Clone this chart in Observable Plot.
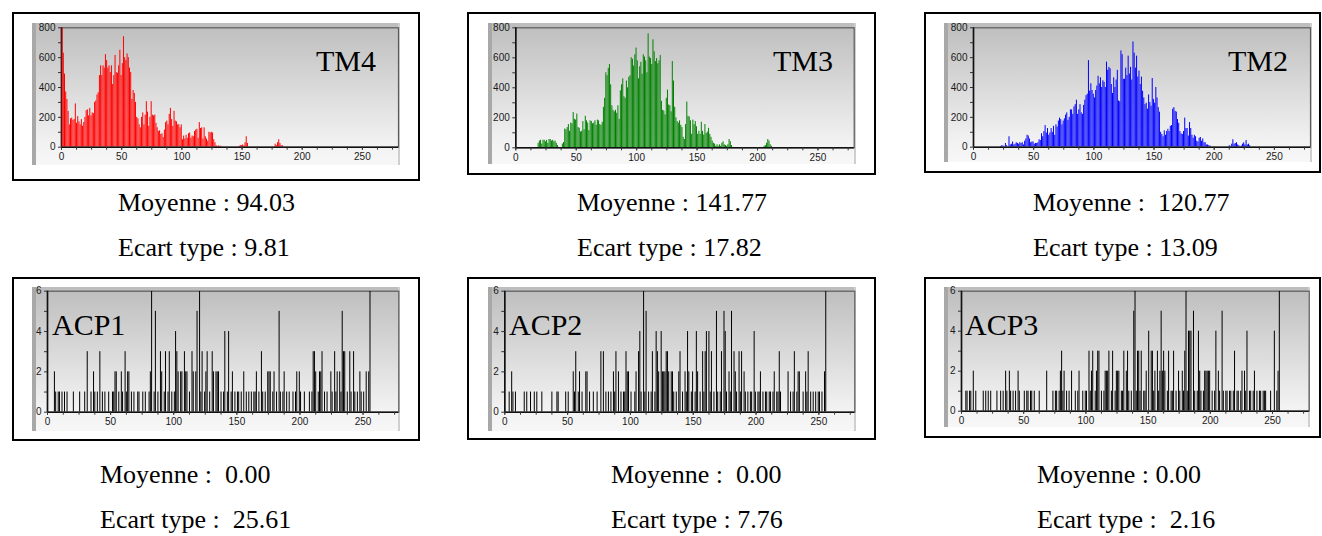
<!DOCTYPE html>
<html>
<head>
<meta charset="utf-8">
<script src="https://cdn.jsdelivr.net/npm/d3@7"></script>
<script src="https://cdn.jsdelivr.net/npm/@observablehq/plot@0.6"></script>
<style>
  html, body { margin: 0; padding: 0; background: #fff; }
  body { position: relative; width: 1322px; height: 536px; overflow: hidden; }
  .frame { position: absolute; box-sizing: border-box; border: 2px solid #000; }
  .gray { position: absolute; background: linear-gradient(to bottom, #bdbdbd 0%, #d6d6d6 40%, #f2f2f2 85%, #f7f7f7 100%); }
  .strip { position: absolute; background: #a8a8a8; }
  .rstrip { position: absolute; background: #cfcfcf; }
  .chart { position: absolute; }
  .label { position: absolute; font-family: "Liberation Serif", "Times New Roman", serif; font-size: 30px; line-height: 30px; color: #000; white-space: pre; }
  .caption { position: absolute; font-family: "Liberation Serif", "Times New Roman", serif; font-size: 26px; line-height: 26px; color: #000; white-space: pre; }
</style>
</head>
<body>
<script>
// ---------------- data (counts per grey level, index = level) ----------------
const tm4Counts = [
 800,630,490,370,320,240,150,190,195,180,
 185,290,160,205,170,150,185,140,165,200,
 245,250,210,260,210,230,225,300,310,350,
 365,480,545,480,545,530,620,580,530,545,
 500,545,420,480,615,500,495,545,650,480,
 560,740,600,580,625,600,530,500,320,380,
 360,300,200,190,150,130,200,230,150,215,
 305,235,140,200,305,215,210,215,160,130,
 105,110,85,90,65,115,165,175,150,220,
 260,185,140,240,175,170,150,150,130,150,
 50,75,55,80,60,90,95,60,75,70,
 105,115,120,60,165,125,130,55,130,70,
 55,40,100,95,100,95,50,30,10,5,
 8,6,6,0,0,0,0,0,0,0,
 0,0,0,0,0,0,0,5,12,10,
 15,8,30,70,25,0,0,0,0,0,
 0,0,0,0,0,0,0,0,0,0,
 0,0,0,0,0,0,0,20,10,30,
 50,25,10,10
];
const tm3Counts = [
 0,0,0,0,0,0,0,0,0,0,
 0,0,0,0,0,0,0,0,30,45,
 50,25,50,50,40,50,30,55,55,45,
 50,40,45,30,15,0,0,0,25,35,
 125,120,135,155,110,165,160,235,190,185,
 225,135,130,105,110,175,120,210,180,165,
 115,180,175,160,165,180,150,185,180,155,
 150,170,270,330,500,480,530,555,420,280,
 250,240,250,230,280,190,380,420,460,340,
 330,445,400,470,480,600,590,545,620,665,
 580,460,540,570,490,620,605,580,500,760,
 605,595,555,720,640,575,595,560,580,615,
 310,250,245,220,330,385,285,280,240,575,
 445,270,200,175,165,180,150,135,70,55,
 155,305,210,205,180,90,185,155,175,140,
 90,110,90,170,110,85,155,95,105,130,
 90,70,45,30,25,10,20,10,20,10,
 30,40,20,15,10,20,55,40,15,0,
 0,0,0,0,0,0,0,0,0,0,
 0,0,0,0,0,0,0,0,0,0,
 0,0,0,0,0,10,15,30,55,45,
 20,10
];
const tm2Counts = [
 0,0,0,0,0,0,0,0,0,0,
 0,0,0,0,0,0,0,0,0,0,
 0,0,5,10,8,0,25,10,0,70,
 15,20,35,15,20,30,25,20,30,25,
 30,15,40,55,80,75,55,30,35,35,
 20,25,25,30,50,45,90,70,105,145,
 95,125,80,95,125,100,140,80,150,135,
 175,195,185,150,175,190,215,230,180,200,
 250,250,220,270,285,315,220,250,285,230,
 220,280,315,345,355,580,375,425,380,355,
 330,380,410,475,425,465,400,445,435,400,
 570,515,535,525,420,360,465,400,450,515,
 310,305,645,620,455,455,530,480,610,490,
 535,450,705,630,530,610,470,510,420,470,
 375,330,285,295,255,350,300,275,460,320,
 295,400,330,265,235,100,85,70,110,80,
 105,120,105,140,145,255,265,240,235,185,
 160,105,90,85,105,195,125,125,75,165,
 125,80,60,80,70,40,35,60,65,40,
 55,30,30,15,15,10,8,0,0,0,
 0,0,0,0,0,0,0,0,0,0,
 0,0,10,5,20,50,20,25,30,15,
 10,0,8,20,30,15,45,15,20,10
];
const acp1Counts = [
 0,0,0,0,0,2,1,0,1,1,0,1,0,1,0,1,
 0,0,0,0,1,0,0,0,0,1,0,0,0,1,0,3,
 0,0,1,0,2,1,0,1,0,3,0,1,0,1,0,0,
 1,0,0,1,1,2,2,0,1,0,2,1,0,3,1,2,
 2,0,1,0,1,0,0,1,1,0,0,1,0,1,0,0,
 1,2,6,0,1,5,0,1,0,3,2,0,1,3,0,1,
 3,0,1,0,1,4,3,2,0,2,2,0,3,2,2,0,
 1,0,3,2,0,2,5,0,6,1,3,0,1,2,3,0,
 1,0,3,2,0,2,2,2,0,1,0,1,4,0,1,4,
 0,1,2,0,1,0,1,1,0,1,0,2,0,1,0,1,
 0,1,0,1,1,2,0,1,0,3,1,0,1,0,2,2,
 2,0,1,2,0,1,0,5,1,0,1,2,0,1,0,1,
 0,0,1,0,1,2,0,2,1,0,0,1,0,0,0,1,
 0,1,3,3,2,0,1,2,2,3,0,1,0,1,0,0,
 2,1,0,3,1,2,0,2,1,5,3,3,0,1,0,3,
 1,0,3,1,0,1,0,2,1,0,1,0,2,0,2,6
];
const acp2Counts = [
 0,0,0,1,0,2,1,0,1,0,0,0,0,0,0,1,
 0,1,0,0,1,0,0,1,0,1,0,0,0,1,0,0,
 0,0,0,0,0,1,0,0,0,1,1,0,0,0,0,0,
 1,0,1,0,0,0,2,1,3,0,1,2,0,1,0,0,
 2,2,0,1,0,0,1,0,0,1,0,0,3,0,3,0,
 1,0,1,0,1,0,2,1,3,0,2,0,1,0,1,1,
 3,2,2,0,1,0,0,1,2,0,3,4,1,0,6,1,
 5,0,1,0,1,3,0,1,4,3,2,0,4,2,2,2,
 3,3,2,0,2,2,1,0,1,0,2,3,0,1,0,2,
 1,4,2,0,1,2,0,1,4,2,0,1,0,3,1,3,
 4,0,4,1,3,0,1,0,5,1,0,1,3,0,5,4,
 1,0,2,1,5,0,3,2,1,0,3,1,3,0,2,1,
 0,1,0,1,1,0,4,1,0,1,1,2,0,1,0,1,
 1,0,1,1,0,1,2,0,1,1,3,1,0,0,0,0,
 0,2,0,1,0,1,3,0,1,2,2,0,0,1,0,2,
 1,3,0,1,0,1,0,1,0,1,1,0,1,0,2,6
];
const acp3Counts = [
 0,0,0,1,1,0,1,1,0,2,0,1,0,0,0,0,
 0,1,0,1,0,1,0,1,0,0,0,0,1,0,0,1,
 0,1,0,2,1,0,2,1,0,1,0,1,0,2,1,0,
 0,0,1,0,1,1,0,1,1,0,1,0,0,0,1,0,
 0,0,0,0,2,0,0,0,0,1,0,1,1,0,1,2,
 3,1,2,0,1,0,1,0,2,0,0,1,0,1,2,0,
 0,1,0,1,1,0,3,1,2,3,0,1,2,3,3,0,
 1,0,1,2,2,2,3,0,1,3,0,1,2,2,2,0,
 1,1,3,0,2,3,1,0,1,0,5,6,1,3,3,1,
 3,0,1,1,2,0,4,0,3,3,1,2,0,3,1,2,
 5,2,3,2,0,1,3,0,1,1,3,0,1,0,2,1,
 0,2,1,3,6,1,4,4,4,0,5,1,0,1,4,2,
 1,0,1,2,2,2,2,2,0,1,0,1,4,0,2,1,
 0,5,1,0,1,1,0,1,1,0,1,3,0,1,1,0,
 1,2,0,2,1,4,0,1,1,0,1,2,0,1,0,1,
 1,0,1,1,1,0,0,0,1,0,0,4,0,1,2,6
];

const panelNames = ["TM4", "TM3", "TM2", "ACP1", "ACP2", "ACP3"];
const meanValues = ["94.03", "141.77", " 120.77", " 0.00", " 0.00", "0.00"];
const stdValues = ["9.81", "17.82", "13.09", " 25.61", "7.76", " 2.16"];
const xTickLabels = [0, 50, 100, 150, 200, 250];
const xMinorStep = 12.5;
const tmYTickLabels = [0, 200, 400, 600, 800];
const tmYMinor = [100, 300, 500, 700];
const acpYTickLabels = [0, 2, 4, 6];
const acpYMinor = [1, 3, 5];

// ---------------- layout (page pixels) ----------------
const layout = [
  {counts: tm4Counts, color: "#ff0000", yMax: 800, yTicks: tmYTickLabels, yMinor: tmYMinor, xMax: 280,
   frame: [12, 12, 420, 181], gray: [32, 23, 400, 165], plot: [61, 27.3, 398, 146.7],
   label: [316, 70.7], cap: [118, 212, 257]},
  {counts: tm3Counts, color: "#008000", yMax: 800, yTicks: tmYTickLabels, yMinor: tmYMinor, xMax: 280,
   frame: [467, 12, 876, 175], gray: [488, 23, 856, 164], plot: [515.3, 27.3, 853.7, 147.3],
   label: [773, 70.7], cap: [577, 212, 257]},
  {counts: tm2Counts, color: "#0000ff", yMax: 800, yTicks: tmYTickLabels, yMinor: tmYMinor, xMax: 280,
   frame: [924, 12, 1321, 173], gray: [944, 23, 1312, 162], plot: [973, 27.3, 1310, 146.7],
   label: [1228, 70.7], cap: [1033, 212, 257]},
  {counts: acp1Counts, color: "#000000", yMax: 6, yTicks: acpYTickLabels, yMinor: acpYMinor, xMax: 278.3,
   frame: [12, 277, 420, 441], gray: [32, 287, 400, 431], plot: [47, 290.7, 398.3, 411.7],
   label: [52, 335], cap: [100, 484, 529]},
  {counts: acp2Counts, color: "#000000", yMax: 6, yTicks: acpYTickLabels, yMinor: acpYMinor, xMax: 278.6,
   frame: [467, 277, 876, 440], gray: [488, 287, 856, 431], plot: [504.3, 290.7, 854.3, 411.7],
   label: [509, 335], cap: [611, 484, 529]},
  {counts: acp3Counts, color: "#000000", yMax: 6, yTicks: acpYTickLabels, yMinor: acpYMinor, xMax: 279.5,
   frame: [924, 277, 1321, 438], gray: [944, 287, 1310, 427], plot: [961, 290.7, 1308.7, 410.7],
   label: [965, 335], cap: [1037, 484, 529]}
];

function el(tag, cls, style, text) {
  const e = document.createElement(tag);
  if (cls) e.className = cls;
  Object.assign(e.style, style);
  if (text != null) e.textContent = text;
  document.body.appendChild(e);
  return e;
}

// baseline offset for a line-height == font-size box (Liberation Serif ascent .891, descent .216)
const baseOff = (fs) => fs * (0.891 - (1.107 - 1) / 2);

layout.forEach((p, i) => {
  const [fx0, fy0, fx1, fy1] = p.frame;
  const [gx0, gy0, gx1, gy1] = p.gray;
  const [px0, py0, px1, py1] = p.plot;
  el("div", "frame", {left: fx0 + "px", top: fy0 + "px", width: (fx1 - fx0) + "px", height: (fy1 - fy0) + "px"});
  el("div", "gray", {left: gx0 + "px", top: gy0 + "px", width: (gx1 - gx0) + "px", height: (gy1 - gy0) + "px"});
  el("div", "strip", {left: gx0 + "px", top: gy0 + "px", width: "4px", height: (gy1 - gy0) + "px"});
  el("div", "rstrip", {left: (gx1 - 2) + "px", top: gy0 + "px", width: "2px", height: (gy1 - gy0) + "px"});

  const data = p.counts.map((c, k) => ({level: k, count: c})).filter(d => d.count > 0);
  const minorX = d3.range(0, p.xMax + 0.01, xMinorStep);
  const W = gx1 - gx0, H = gy1 - gy0;
  const chart = Plot.plot({
    width: W, height: H,
    marginLeft: px0 - gx0, marginRight: gx1 - px1, marginTop: py0 - gy0, marginBottom: gy1 - py1,
    style: {background: "transparent", overflow: "visible", fontFamily: "'Liberation Sans', Arial, sans-serif", fontSize: "10px", color: "#1a1a1a"},
    x: {domain: [0, p.xMax], axis: null},
    y: {domain: [0, p.yMax], axis: null},
    marks: [
      Plot.frame({stroke: "#5a5a5a", strokeWidth: 1.2}),
      Plot.ruleX([0], {stroke: "#111", strokeWidth: 1.6}),
      Plot.ruleX(data, {x: "level", y1: 0, y2: "count", stroke: p.color, strokeWidth: 1, dx: 0.6, clip: true}),
      Plot.ruleY([0], {stroke: "#111", strokeWidth: 1.6}),
      Plot.axisX(minorX, {tickSize: 3, tickFormat: () => "", stroke: "#333", label: null}),
      Plot.axisX(xTickLabels, {tickSize: 3, tickPadding: 3, stroke: "#333", fill: "#1a1a1a", fontSize: 10, label: null}),
      Plot.axisY(p.yMinor, {tickSize: 3, tickFormat: () => "", stroke: "#333", label: null}),
      Plot.axisY(p.yTicks, {tickSize: 3, tickPadding: 3, stroke: "#333", fill: "#1a1a1a", fontSize: 10, label: null})
    ]
  });
  const holder = el("div", "chart", {left: gx0 + "px", top: gy0 + "px", width: W + "px", height: H + "px"});
  holder.appendChild(chart);

  const lfs = 30;
  el("div", "label", {left: p.label[0] + "px", top: (p.label[1] - baseOff(lfs)) + "px"}, panelNames[i]);
  const cfs = 26;
  el("div", "caption", {left: p.cap[0] + "px", top: (p.cap[1] - baseOff(cfs)) + "px"}, "Moyenne : " + meanValues[i]);
  el("div", "caption", {left: p.cap[0] + "px", top: (p.cap[2] - baseOff(cfs)) + "px"}, "Ecart type : " + stdValues[i]);
});
</script>
</body>
</html>
